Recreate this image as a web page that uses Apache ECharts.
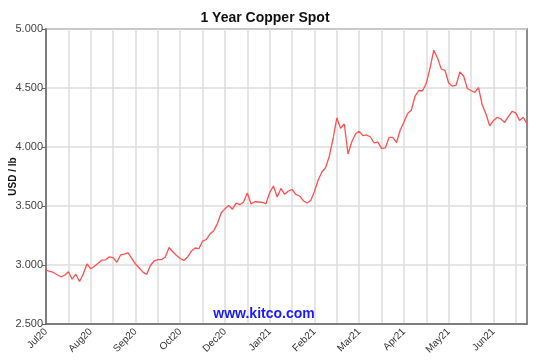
<!DOCTYPE html>
<html>
<head>
<meta charset="utf-8">
<script src="https://cdn.jsdelivr.net/npm/echarts@6/dist/echarts.min.js"></script>
<style>html,body{margin:0;padding:0;background:#fff}#c{width:546px;height:361px}</style>
</head>
<body>
<div id="c"></div>
<script>
// Tick labels on the x axis (every 12th trading-day slot)
var tickLabels = ['Jul20','Aug20','Sep20','Oct20','Dec20','Jan21','Feb21','Mar21','Apr21','May21','Jun21'];
// Copper spot price, USD / lb
var prices = [
 2.958,2.945,2.937,2.917,2.900,2.913,2.943,2.880,2.922,2.860,
 2.924,3.010,2.968,2.989,3.014,3.042,3.044,3.069,3.062,3.023,
 3.085,3.092,3.103,3.056,3.008,2.975,2.940,2.920,2.996,3.034,
 3.045,3.045,3.068,3.148,3.112,3.081,3.055,3.039,3.068,3.119,
 3.144,3.138,3.203,3.216,3.264,3.291,3.353,3.443,3.476,3.504,
 3.473,3.525,3.511,3.534,3.610,3.517,3.536,3.534,3.531,3.520,
 3.614,3.669,3.576,3.649,3.599,3.627,3.640,3.599,3.585,3.545,
 3.525,3.547,3.623,3.720,3.788,3.826,3.924,4.072,4.246,4.159,
 4.195,3.941,4.042,4.110,4.133,4.097,4.102,4.085,4.034,4.042,
 3.989,3.992,4.081,4.081,4.038,4.144,4.212,4.284,4.314,4.432,
 4.479,4.476,4.542,4.669,4.820,4.755,4.661,4.650,4.542,4.515,
 4.525,4.636,4.602,4.496,4.479,4.462,4.504,4.356,4.280,4.178,
 4.223,4.252,4.237,4.208,4.258,4.301,4.289,4.225,4.252,4.195
];
var yTicks = {min: 2.5, max: 5.0, step: 0.5};
var titleText = '1 Year Copper Spot';
var yName = 'USD / lb';
var watermark = 'www.kitco.com';

var categories = prices.map(function(_, i){ return i; });
var font = 'Arial, "Liberation Sans", sans-serif';

var chart = echarts.init(document.getElementById('c'), null, {renderer:'canvas'});
chart.setOption({
  animation: false,
  backgroundColor: '#fff',
  grid: {left: 46, right: 19, top: 29, bottom: 37, show: true, borderColor: '#666', borderWidth: 1.5,
         containLabel: false, outerBoundsMode: 'none'},
  graphic: [
    {type:'text', x: 265, y: 18, style:{text: titleText, font: 'bold 14px ' + font, fill:'#111', textAlign:'center', textVerticalAlign:'middle'}},
    {type:'text', x: 264, y: 314, z: 10, style:{text: watermark, font: 'bold 14px ' + font, fill:'#1a1aff', textAlign:'center', textVerticalAlign:'middle'}}
  ],
  xAxis: {
    type: 'category', data: categories, boundaryGap: false,
    axisLine: {show: true, lineStyle: {color: '#666', width: 1.5}},
    axisTick: {show: false},
    splitLine: {show: true, interval: function(i){ return i % 6 === 0; }, lineStyle: {color: '#dcdcdc', width: 1.5}},
    axisLabel: {
      interval: function(i){ return i % 12 === 0; },
      rotate: 45,
      fontSize: 10, color: '#333', fontFamily: font, margin: 6,
      formatter: function(v, i){ return i % 12 === 0 ? (tickLabels[i/12] || '') : ''; }
    }
  },
  yAxis: {
    type: 'value', min: yTicks.min, max: yTicks.max, interval: yTicks.step,
    name: yName, nameLocation: 'middle', nameRotate: 90, nameGap: 28, nameMoveOverlap: false,
    nameTextStyle: {fontSize: 10, fontWeight: 'bold', color: '#111', fontFamily: font},
    axisLine: {show: true, lineStyle: {color: '#666', width: 1.5}},
    axisTick: {show: true, length: 4, lineStyle: {color: '#666'}},
    splitLine: {show: true, lineStyle: {color: '#dcdcdc', width: 1.5}},
    axisLabel: {fontSize: 11, color: '#444', fontFamily: font, margin: 3, formatter: function(v){ return v.toFixed(3); }}
  },
  series: [{
    type: 'line', data: prices, showSymbol: false, symbol: 'none',
    lineStyle: {color: '#ff4f4f', width: 1.3}
  }]
});
</script>
</body>
</html>
